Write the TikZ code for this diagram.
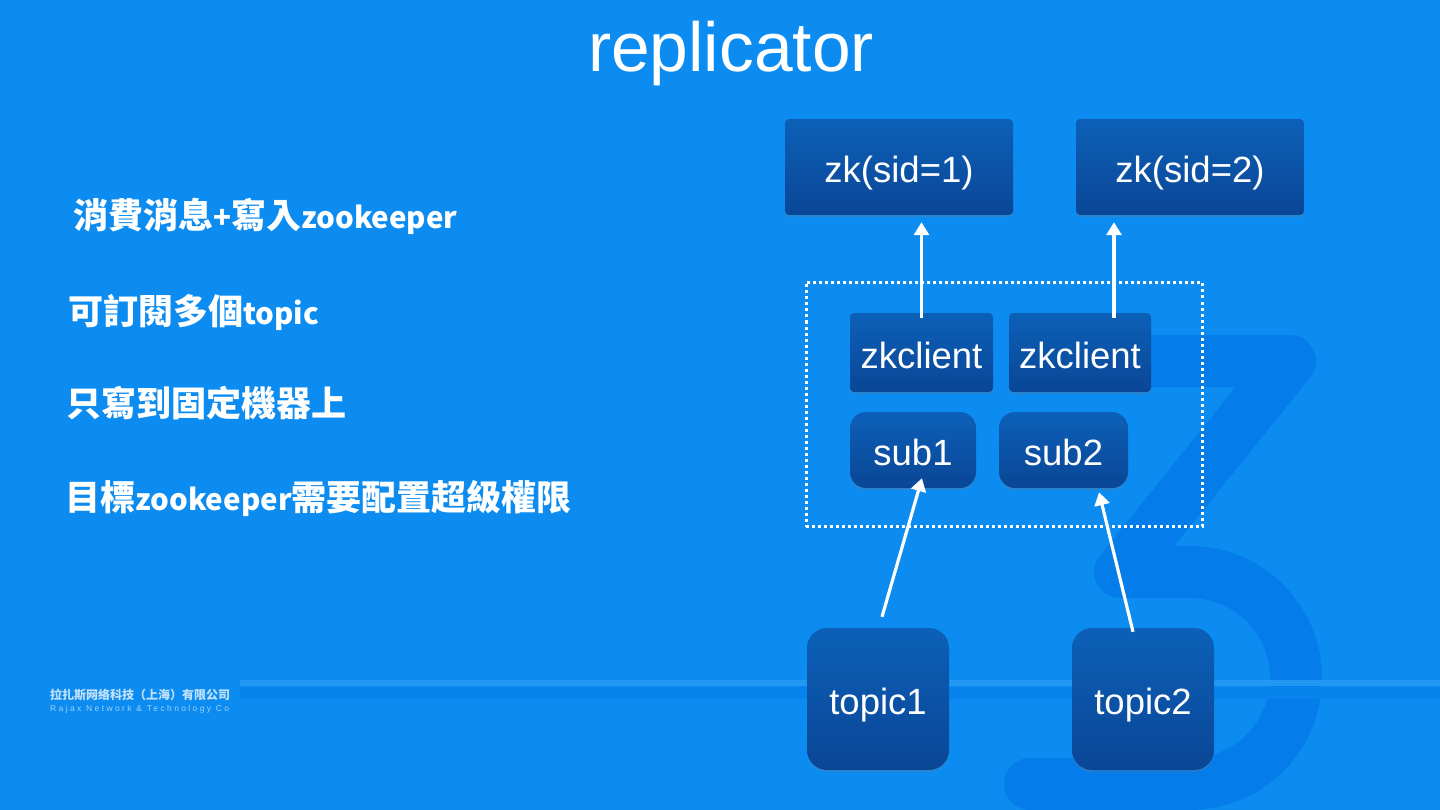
\documentclass[tikz,border=0pt]{standalone}
\usepackage{fontspec}
\setmainfont{Liberation Sans}
\newfontfamily\cjk{Noto Sans CJK TC}
\newfontfamily\cjksc{Noto Sans CJK SC}
\usetikzlibrary{arrows.meta,calc,shadows}
\newcommand\latpart[1]{{\fontsize{29.5}{36}\selectfont #1}}
\definecolor{bg}{RGB}{12,140,240}
\definecolor{wm}{RGB}{4,125,234}
\definecolor{bandl}{RGB}{34,152,243}
\definecolor{bandd}{RGB}{6,131,236}
\definecolor{boxtop}{RGB}{12,96,184}
\definecolor{boxbot}{RGB}{10,70,150}
\tikzset{
  box/.style={rounded corners=4pt, top color=boxtop, bottom color=boxbot, text=white,
    font=\fontsize{36.5}{42}\selectfont, inner sep=0pt, text height=31pt, text depth=0pt,
    drop shadow={opacity=0.25, shadow xshift=0pt, shadow yshift=-2pt}},
  roundbox/.style={box, rounded corners=16pt},
  bigbox/.style={box, rounded corners=20pt},
  link/.style={draw=white, line width=3.2pt, -{Triangle[length=13pt,width=15pt]}},
  bullet/.style={anchor=west, text=white, font=\cjk\bfseries\fontsize{35}{40}\selectfont, inner sep=0pt},
  group/.style={draw=white, line width=3pt, dash pattern=on 3pt off 3pt, inner sep=0pt}
}
\begin{document}
\begin{tikzpicture}[x=1pt,y=-1pt]
\fill[bg] (0,0) rectangle (1440,810);
\useasboundingbox (0,0) rectangle (1440,810);
% watermark
\draw[wm, line width=52pt, line cap=round, line join=round]
  (1040,361) -- (1290,361) -- (1120,572) -- (1190,572)
  arc[start angle=-90, end angle=90, radius=106] -- (1030,784);
\fill[bandl] (240,680) rectangle (1440,686);
\fill[bandd] (240,687) rectangle (1440,699);
% title
\node[anchor=base, text=white, font=\fontsize{69.5}{74}\selectfont, inner sep=0pt] (title) at (731,72) {replicator};
% bullet texts
\node[bullet] (t1) at (73,216) {消費消息\latpart{+}寫入\latpart{zookeeper}};
\node[bullet] (t2) at (68,313) {可訂閱多個\latpart{topic}};
\node[bullet] (t3) at (66,403) {只寫到固定機器上};
\node[bullet] (t4) at (65,498) {目標\latpart{zookeeper}需要配置超級權限};
% logo
\node[anchor=base west, inner sep=0pt, text=white!75!bg, font=\cjksc\bfseries\fontsize{12}{12}\selectfont] (logo1) at (50,699) {拉扎斯网络科技（上海）有限公司};
\node[anchor=base west, inner sep=0pt, text=white!60!bg, font=\fontsize{8.5}{9}\selectfont\addfontfeature{LetterSpace=28}] (logo2) at (50,711) {Rajax Network \& Technology Co};
% group
\node[group, minimum width=396pt, minimum height=244pt] (grp) at (1004,404.5) {};
% boxes
\node[box, minimum width=228pt, minimum height=96pt] (zk1) at (899,167) {zk(sid=1)};
\node[box, minimum width=228pt, minimum height=96pt] (zk2) at (1190,167) {zk(sid=2)};
\node[box, minimum width=143pt, minimum height=79pt] (zkc1) at (921.5,352.5) {zkclient};
\node[box, minimum width=142pt, minimum height=79pt] (zkc2) at (1080,352.5) {zkclient};
\node[roundbox, minimum width=126pt, minimum height=76pt] (sub1) at (913,450) {sub1};
\node[roundbox, minimum width=129pt, minimum height=76pt] (sub2) at (1063.5,450) {sub2};
\node[bigbox, minimum width=142pt, minimum height=142pt] (topic1) at (878,699) {topic1};
\node[bigbox, minimum width=142pt, minimum height=142pt] (topic2) at (1143,699) {topic2};
% connectors
\draw[link] ($(zkc1.north)+(0,5)$) -- ($(zkc1.north |- zk1.south)+(0,7)$);
\draw[link] ($(zkc2.north)+(34,5)$) -- ($(zk2.south)+(-76,7)$);
\draw[link] ($(topic1.north)+(4,-11)$) -- ($(sub1.south)+(9,-10)$);
\draw[link] ($(topic2.north)+(-10,4)$) -- ($(sub2.south)+(35.5,4)$);
\end{tikzpicture}
\end{document}
